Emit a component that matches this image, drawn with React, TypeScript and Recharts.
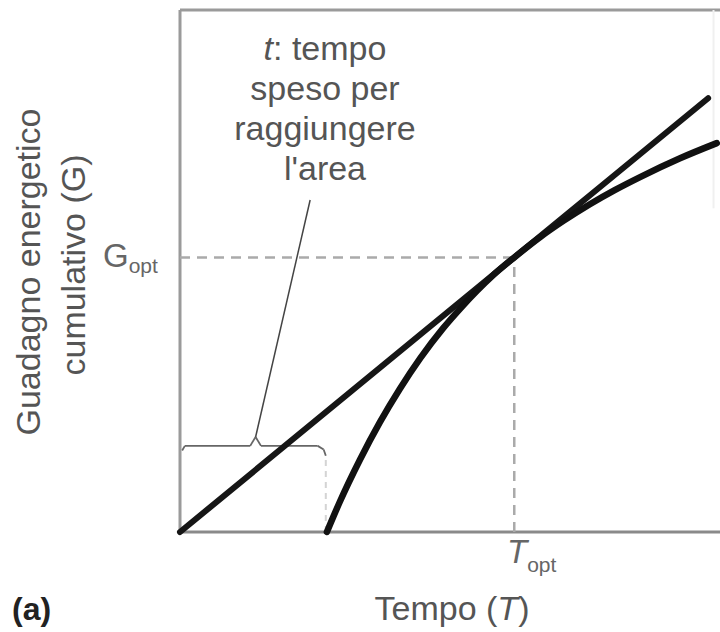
import React from 'react';
import { LineChart, Line, XAxis, YAxis, ReferenceLine } from 'recharts';

// cumulative gain curve (T, G)
const gainT = [27.2, 29.6, 33.3, 37, 40.7, 44.5, 48.7, 51.9, 55, 58, 61.9, 66.7, 71, 75.9, 80.5, 85.2, 92.6, 99.4];
const gainG = [0, 5.8, 13.8, 21.0, 27.4, 33.3, 39.0, 42.8, 46.2, 49.2, 52.6, 56.5, 59.6, 62.8, 65.5, 68.0, 71.6, 74.5];

// tangent line from the origin
const rateT = [0, 97.8];
const rateG = [0, 83.1];

const T_OPT = 61.9;
const G_OPT = 52.6;

// brace marking travel time t, and its leader
const braceT = [0.4, 0.9, 13.0, 14.0, 15.0, 25.5, 26.6, 27.0];
const braceG = [15.6, 16.5, 16.5, 18.2, 16.5, 16.5, 15.8, 14.6];
const leaderT = [14.0, 24.1];
const leaderG = [18.2, 63.6];

const noteLines = ['tempo', 'speso per', 'raggiungere', "l'area"];

const W = 720;
const H = 632;
const FONT = '"Liberation Sans", Arial, Helvetica, sans-serif';
const GREY = '#555';

const rows = [
  ...rateT.map((t, i) => ({ t, rate: rateG[i] as number | null, gain: null as number | null })),
  ...gainT.map((t, i) => ({ t, rate: null as number | null, gain: gainG[i] as number | null })),
].sort((a, b) => a.t - b.t);

export default function App() {
  const brace = braceT.slice(1).map((t, i) => [
    { x: braceT[i], y: braceG[i] },
    { x: t, y: braceG[i + 1] },
  ]);

  return (
    <div style={{ position: 'relative', width: W, height: H, background: '#fff' }}>
      <style>{'body{margin:0}'}</style>
      <LineChart width={W} height={H} data={rows} margin={{ top: 10, right: 0, left: 180, bottom: 100 }}>
        <XAxis type="number" dataKey="t" domain={[0, 100]} hide />
        <YAxis type="number" domain={[0, 100]} hide />

        {/* frame */}
        <ReferenceLine segment={[{ x: 0, y: 100 }, { x: 100, y: 100 }]} stroke="#9a9a9a" strokeWidth={3} />
        <ReferenceLine segment={[{ x: 0, y: 0 }, { x: 0, y: 100 }]} stroke="#9a9a9a" strokeWidth={3} />
        <ReferenceLine segment={[{ x: 0, y: 0 }, { x: 100, y: 0 }]} stroke="#8a8a8a" strokeWidth={3} />
        <ReferenceLine segment={[{ x: 98.8, y: 62 }, { x: 98.8, y: 100 }]} stroke="#f0f0f0" strokeWidth={2} />

        {/* optimum guides */}
        <ReferenceLine segment={[{ x: 0, y: G_OPT }, { x: T_OPT, y: G_OPT }]} stroke="#aaa" strokeWidth={2.5} strokeDasharray="10 7" />
        <ReferenceLine segment={[{ x: T_OPT, y: 0 }, { x: T_OPT, y: G_OPT }]} stroke="#aaa" strokeWidth={2.5} strokeDasharray="10 7" />
        <ReferenceLine segment={[{ x: braceT[7], y: 0 }, { x: braceT[7], y: braceG[7] }]} stroke="#d4d4d4" strokeWidth={2} strokeDasharray="6 5" />

        {brace.map((seg, i) => (
          <ReferenceLine key={`b-${i}`} segment={seg} stroke="#666" strokeWidth={1.8} />
        ))}
        <ReferenceLine
          segment={[{ x: leaderT[0], y: leaderG[0] }, { x: leaderT[1], y: leaderG[1] }]}
          stroke="#444"
          strokeWidth={1.5}
        />

        <Line
          dataKey="rate"
          type="linear"
          stroke="#161616"
          strokeWidth={6}
          strokeLinecap="round"
          dot={false}
          activeDot={false}
          connectNulls
          isAnimationActive={false}
        />
        <Line
          dataKey="gain"
          type="monotone"
          stroke="#111"
          strokeWidth={6.5}
          strokeLinecap="round"
          dot={false}
          activeDot={false}
          connectNulls
          isAnimationActive={false}
        />
      </LineChart>

      <svg
        width={W}
        height={H}
        style={{ position: 'absolute', left: 0, top: 0, pointerEvents: 'none' }}
        fontFamily={FONT}
      >
        {/* note about travel time */}
        <text x={325} y={60} textAnchor="middle" fontSize={34} fill={GREY}>
          <tspan fontStyle="italic">t</tspan>: {noteLines[0]}
        </text>
        {noteLines.slice(1).map((s, i) => (
          <text key={s} x={325} y={100 + i * 40} textAnchor="middle" fontSize={34} fill={GREY}>
            {s}
          </text>
        ))}

        {/* y axis title */}
        <text transform="translate(40,272) rotate(-90)" textAnchor="middle" fontSize={34} fill={GREY}>
          Guadagno energetico
        </text>
        <text transform="translate(85,265) rotate(-90)" textAnchor="middle" fontSize={34} fill={GREY}>
          cumulativo (G)
        </text>

        {/* G opt */}
        <text x={103} y={267} fontSize={33} fill="#666">
          G
          <tspan fontSize={21} dy={6}>opt</tspan>
        </text>

        {/* T opt */}
        <text x={507} y={563} fontSize={33} fill="#666">
          <tspan fontStyle="italic">T</tspan>
          <tspan fontSize={21} dy={9}>opt</tspan>
        </text>

        {/* x axis title */}
        <text x={452} y={620} textAnchor="middle" fontSize={34} fill={GREY}>
          Tempo (<tspan fontStyle="italic">T</tspan>)
        </text>

        <text x={12} y={620} fontSize={32} fontWeight="bold" fill="#222">
          (a)
        </text>
      </svg>
    </div>
  );
}
